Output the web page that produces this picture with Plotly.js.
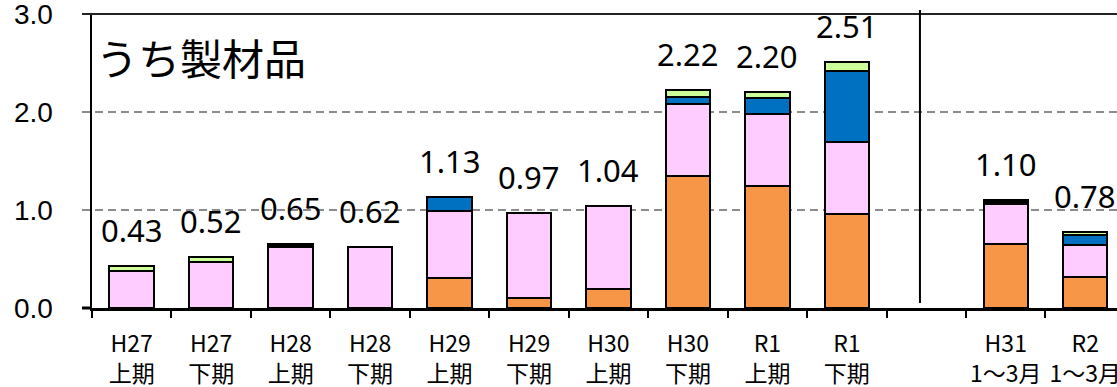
<!DOCTYPE html>
<html>
<head>
<meta charset="utf-8">
<script src="https://cdn.plot.ly/plotly-3.0.1.min.js"></script>
<style>
html,body{margin:0;padding:0;background:#fff;overflow:hidden;}
#chart{width:1117px;height:387px;}
</style>
</head>
<body>
<div id="chart"></div>
<script>
// Categories (the blank one is the gap before the Jan-Mar comparison)
const categories = ["H27<br>上期","H27<br>下期","H28<br>上期","H28<br>下期","H29<br>上期","H29<br>下期","H30<br>上期","H30<br>下期","R1<br>上期","R1<br>下期"," ","H31<br>1～3月","R2<br>1～3月"];
// Stacked segment values (bottom to top)
const seriesOrange = [null,null,null,null,0.31,0.10,0.19,1.35,1.24,0.96,null,0.65,0.32];
const seriesPink   = [0.38,0.47,0.62,0.62,0.68,0.87,0.85,0.73,0.74,0.73,null,0.41,0.32];
const seriesBlack  = [null,null,0.03,null,null,null,null,null,null,null,null,0.04,null];
const seriesBlue   = [null,null,null,null,0.14,null,null,0.07,0.16,0.73,null,null,0.10];
const seriesGreen  = [0.05,0.05,null,null,null,null,null,0.07,0.06,0.09,null,null,0.04];
// Total labels
const totals      = [0.43,0.52,0.65,0.62,1.13,0.97,1.04,2.22,2.20,2.51,null,1.10,0.78];
const totalLabels = ["0.43","0.52","0.65","0.62","1.13","0.97","1.04","2.22","2.20","2.51","","1.10","0.78"];
const yTickVals = [0,1,2,3];
const yTickText = ["0.0","1.0","2.0","3.0"];
const titleText = "うち製材品";

const colors = ["#F79646","#FFCCFF","#000000","#0070C0","#CCFF99"];
const allSeries = [seriesOrange, seriesPink, seriesBlack, seriesBlue, seriesGreen];

const traces = allSeries.map((vals, i) => ({
  type: "bar",
  x: categories,
  y: vals,
  width: 0.56,
  marker: {color: colors[i], line: {color: "#000", width: 2}},
  hoverinfo: "skip",
  showlegend: false
}));

const annotations = [];
categories.forEach((c, i) => {
  if (totals[i] == null) return;
  annotations.push({
    x: c, y: totals[i], xref: "x", yref: "y",
    text: totalLabels[i], showarrow: false,
    xanchor: "center", yanchor: "bottom", yshift: 13,
    font: {family: "Noto Sans", size: 31, color: "#000"}
  });
});
// y tick labels
yTickVals.forEach((v, i) => {
  annotations.push({
    x: -0.036, y: v, xref: "paper", yref: "y",
    text: yTickText[i], showarrow: false, xanchor: "right", yanchor: "middle",
    font: {family: "Liberation Sans", size: 28, color: "#000"}
  });
});
annotations.push({
  x: 0.002, y: 0.854, xref: "paper", yref: "paper",
  text: titleText, showarrow: false, xanchor: "left", yanchor: "middle",
  font: {family: "Noto Sans CJK JP", size: 42, color: "#000"}
});

const padL = -10/1025;
const shapes = [
  // top border at 3.0
  {type:"line", xref:"paper", yref:"paper", x0:padL, x1:1, y0:1, y1:1, line:{color:"#222", width:2}},
  // tick at 0.0
  {type:"line", xref:"paper", yref:"paper", x0:padL, x1:0, y0:0, y1:0, line:{color:"#000", width:3}},
  // dashed gridlines
  {type:"line", xref:"paper", yref:"y", x0:padL, x1:1, y0:1, y1:1, layer:"below", line:{color:"#8c8c8c", width:2, dash:"8px,5px"}},
  {type:"line", xref:"paper", yref:"y", x0:padL, x1:1, y0:2, y1:2, layer:"below", line:{color:"#8c8c8c", width:2, dash:"8px,5px"}},
  // separator
  {type:"line", xref:"x", yref:"paper", x0:9.92, x1:9.92, y0:0.017, y1:1.0136, line:{color:"#000", width:2}}
];

const layout = {
  width: 1117, height: 387,
  margin: {l: 92, r: 0, t: 14, b: 79},
  paper_bgcolor: "#fff", plot_bgcolor: "#fff",
  barmode: "stack",
  xaxis: {
    type: "category", categoryorder: "array", categoryarray: categories,
    range: [-0.5, 12.4], tickson: "boundaries", tickangle: 0,
    ticks: "outside", ticklen: 7, tickwidth: 2, tickcolor: "#000",
    showline: true, linecolor: "#000", linewidth: 3,
    showgrid: false, zeroline: false, ticklabelstandoff: 13,
    tickfont: {family: "Noto Sans CJK JP", size: 23, color: "#000"}
  },
  yaxis: {
    range: [0, 3], showticklabels: false,
    ticks: "", showline: true, linecolor: "#000", linewidth: 2.5,
    showgrid: false, zeroline: false
  },
  shapes: shapes,
  annotations: annotations
};

Plotly.newPlot("chart", traces, layout, {staticPlot: true, displayModeBar: false});
</script>
</body>
</html>
